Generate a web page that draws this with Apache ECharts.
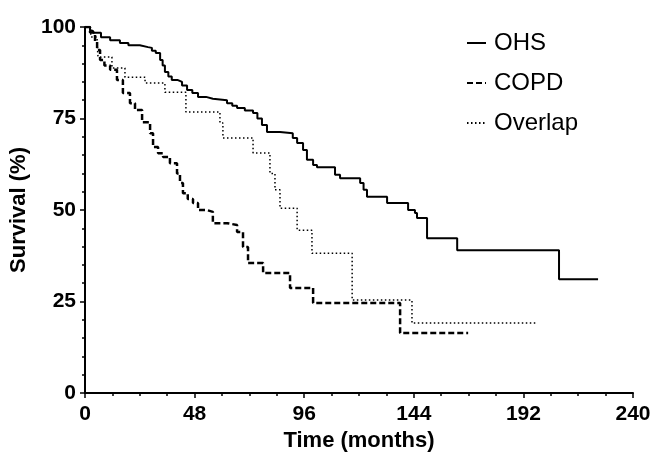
<!DOCTYPE html>
<html>
<head>
<meta charset="utf-8">
<script src="https://cdn.jsdelivr.net/npm/echarts@6.0.0/dist/echarts.min.js"></script>
<style>
  html, body { margin: 0; padding: 0; background: #fff; }
  #main { width: 655px; height: 458px; }
</style>
</head>
<body>
<div id="main"></div>
<script>
// Kaplan-Meier curves, [months, survival %]
var ohsData = [
  [0, 100], [2.2, 99], [3.5, 98.4], [7, 97.2], [11, 96.4], [15.3, 95.6], [19, 95],
  [24, 94.5], [27.6, 94.3], [29.3, 93.5], [31, 92.9], [32.9, 91], [34, 89.5],
  [35, 87.7], [36.5, 86.5], [38, 85.5], [40.7, 85], [42.5, 84], [44.7, 82.8],
  [47, 82], [49.5, 80.9], [53, 80.4], [56, 80], [62.2, 79.2], [64.5, 78.5],
  [66.6, 77.9], [70, 77.2], [73.6, 76.5], [75.5, 75], [77.5, 73.2], [79.7, 71.3],
  [85.4, 71], [91, 69.7], [92.9, 68.3], [95.5, 66.4], [97.2, 63.7], [99.9, 62.3],
  [101.6, 61.7], [109.5, 59.6], [111.7, 58.7], [120.5, 57.4], [122, 55.5],
  [123.5, 53.6], [132.3, 51.9], [141.5, 50], [144.5, 49.2], [145.4, 47.8],
  [149.8, 42.3], [163, 39], [207.6, 31.1], [224.7, 31.1]
];
var copdData = [
  [0, 100], [2.2, 98.5], [4.4, 96], [5.3, 93.7], [6.6, 91], [8.5, 89.5], [11, 88.3],
  [14, 85.5], [16.6, 82], [19.7, 79.2], [21.9, 77.3], [25, 74], [28.5, 71],
  [29.8, 67.2], [32, 65.5], [34.2, 64.5], [37.2, 62.8], [40.3, 60], [41.6, 57.4],
  [42.9, 54.6], [45, 53], [47.3, 51.9], [49.5, 50], [53.3, 49.5], [56, 46.4],
  [62.2, 45.9], [66.6, 44], [69.2, 39.9], [71.4, 35.5], [78, 32.8], [89.8, 28.7],
  [99.9, 24.6], [138, 16.4], [167.8, 16.4]
];
var overlapData = [
  [0, 100], [2.5, 97.3], [5.3, 95.6], [5.7, 91.8], [11.8, 88.8], [17.5, 86.3],
  [26.3, 84.7], [35, 82.2], [44.2, 76.8], [59.1, 73.8], [60.4, 69.7], [73.6, 65.6],
  [81, 60], [83.2, 55.5], [85.4, 50.5], [92.9, 44.5], [99.4, 38.2], [117, 25.4],
  [143.2, 19.1], [198, 19.1]
];
var seriesNames = ['OHS', 'COPD', 'Overlap'];

var font = 'Liberation Sans, Arial, sans-serif';

var myChart = echarts.init(document.getElementById('main'));
myChart.setOption({
  animation: false,
  backgroundColor: '#fff',
  grid: { left: 85, right: 22, top: 27, bottom: 65 },
  legend: {
    orient: 'vertical',
    left: 461,
    top: 26,
    itemWidth: 19,
    itemHeight: 14,
    itemGap: 16,
    data: seriesNames,
    itemStyle: { opacity: 0 },   // line only, no marker in the key
    textStyle: { color: '#000', fontSize: 24, fontFamily: font, padding: [0, 0, 0, 3] }
  },
  xAxis: {
    type: 'value',
    min: 0,
    max: 240,
    interval: 48,
    name: 'Time (months)',
    nameLocation: 'middle',
    nameGap: 37,
    nameTextStyle: { color: '#000', fontSize: 22, fontWeight: 'bold', fontFamily: font },
    axisLine: { lineStyle: { color: '#000', width: 2 } },
    axisTick: { length: 5, lineStyle: { color: '#000', width: 1.5 } },
    minorTick: { show: true, splitNumber: 4, length: 3, lineStyle: { color: '#000', width: 1.5 } },
    splitLine: { show: false },
    axisLabel: { color: '#000', fontSize: 21, fontWeight: 'bold', fontFamily: font, margin: 11 }
  },
  yAxis: {
    type: 'value',
    min: 0,
    max: 100,
    interval: 25,
    name: 'Survival (%)',
    nameLocation: 'middle',
    nameGap: 47,
    nameTextStyle: { color: '#000', fontSize: 22, fontWeight: 'bold', fontFamily: font },
    axisLine: { show: true, lineStyle: { color: '#000', width: 2 } },
    axisTick: { show: true, length: 5, lineStyle: { color: '#000', width: 1.5 } },
    minorTick: { show: true, splitNumber: 5, length: 3, lineStyle: { color: '#000', width: 1.5 } },
    splitLine: { show: false },
    axisLabel: { color: '#000', fontSize: 21, fontWeight: 'bold', fontFamily: font, margin: 9 }
  },
  series: [{
    name: seriesNames[0],
    type: 'line',
    step: 'end',
    symbol: 'none',
    data: ohsData,
    lineStyle: { color: '#000', width: 2 },
    itemStyle: { color: '#000' }
  }, {
    name: seriesNames[1],
    type: 'line',
    step: 'end',
    symbol: 'none',
    data: copdData,
    lineStyle: { color: '#000', width: 2.5, type: [6, 3] },
    itemStyle: { color: '#000' }
  }, {
    name: seriesNames[2],
    type: 'line',
    step: 'end',
    symbol: 'none',
    data: overlapData,
    lineStyle: { color: '#000', width: 1.5, type: [1.5, 2.5] },
    itemStyle: { color: '#000' }
  }]
});
</script>
</body>
</html>
